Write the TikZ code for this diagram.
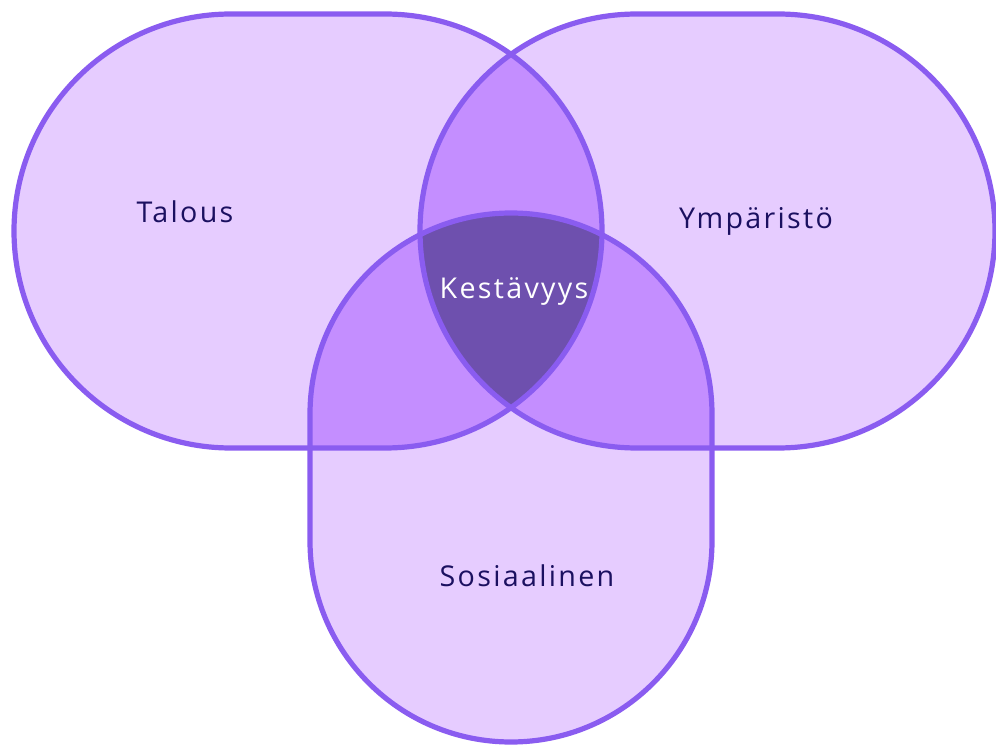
\documentclass[tikz,border=0pt]{standalone}
\usepackage{fontspec}
\setmainfont[LetterSpace=8]{Open Sans}
\usepackage{tikz}

\definecolor{ringline}{HTML}{8A5CF0}
\definecolor{ringfill}{HTML}{E6CCFF}
\definecolor{pairfill}{HTML}{C48EFF}
\definecolor{corefill}{HTML}{6E50AE}
\definecolor{nametext}{HTML}{1B1060}

\def\talous{(231,14) -- (385,14) arc[start angle=-90,end angle=90,radius=217] -- (231,448) arc[start angle=90,end angle=270,radius=217] -- cycle}
\def\ymparisto{(637,14) -- (778,14) arc[start angle=-90,end angle=90,radius=217] -- (637,448) arc[start angle=90,end angle=270,radius=217] -- cycle}
\def\sosiaali{(310,414) arc[start angle=180,end angle=360,radius=201] -- (712,541) arc[start angle=0,end angle=180,radius=201] -- cycle}

\begin{document}
\begin{tikzpicture}[x=0.75pt,y=-0.75pt,
  ring/.style={draw=ringline,line width=3.9pt,line join=round},
  setname/.style={text=nametext,font=\fontsize{21.5}{26}\selectfont}]
\useasboundingbox (0,0) rectangle (996,745);
\fill[ringfill] \talous;
\fill[ringfill] \ymparisto;
\fill[ringfill] \sosiaali;
\begin{scope}
\clip \talous;
\fill[pairfill] \ymparisto;
\fill[pairfill] \sosiaali;
\end{scope}
\begin{scope}
\clip \ymparisto;
\fill[pairfill] \sosiaali;
\end{scope}
\begin{scope}
\clip \talous;
\clip \ymparisto;
\fill[corefill] \sosiaali;
\end{scope}
\draw[ring] \talous;
\draw[ring] \ymparisto;
\draw[ring] \sosiaali;
\node[setname] (talous) at (185,212) {Talous};
\node[setname] (ymparisto) at (756,221) {Ympäristö};
\node[setname,text=white] (kestavyys) at (514,292) {Kestävyys};
\node[setname] (sosiaalinen) at (527,576) {Sosiaalinen};
\end{tikzpicture}
\end{document}
